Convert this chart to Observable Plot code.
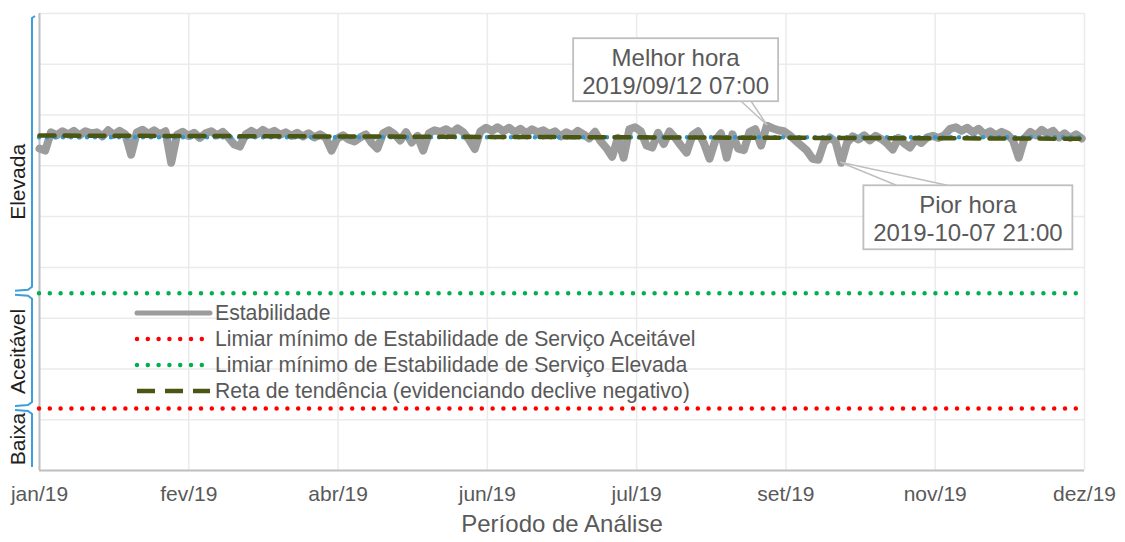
<!DOCTYPE html>
<html>
<head>
<meta charset="utf-8">
<script src="https://cdn.jsdelivr.net/npm/d3@7"></script>
<script src="https://cdn.jsdelivr.net/npm/@observablehq/plot@0.6"></script>
<style>
  html, body { margin: 0; padding: 0; background: #fff; }
  #chart svg { display: block; }
</style>
</head>
<body>
<div id="chart"></div>
<script>
// ---------------- DATA ----------------
const startDate = new Date(Date.UTC(2019, 0, 1, 0));
const endDate = new Date(Date.UTC(2019, 11, 31, 23));
const sampleStepDays = 2;

// Estabilidade (one reading every 2 days)
const stability = [
  63.4, 63.0, 66.6, 66.0, 66.8, 66.2, 66.9, 66.0, 66.8, 66.4,
  66.6, 65.8, 67.0, 66.1, 66.9, 66.2, 62.2, 66.6, 67.1, 66.3,
  67.0, 66.2, 66.8, 60.6, 66.1, 66.7, 65.9, 66.5, 65.5, 66.4,
  66.8, 66.0, 66.7, 65.6, 64.2, 63.8, 66.2, 66.9, 66.2, 67.1,
  66.4, 66.9, 66.1, 66.6, 65.9, 66.5, 65.8, 66.4, 65.6, 66.2,
  65.5, 63.0, 65.4, 66.0, 65.2, 64.8, 65.6, 66.2, 64.5, 63.4,
  66.4, 67.0, 66.2, 65.0, 66.6, 64.6, 65.9, 63.0, 66.4, 67.0,
  66.7, 67.2, 66.5, 67.4, 66.6, 65.2, 63.3, 66.8, 67.5, 66.9,
  67.6, 66.8, 67.5, 66.6, 67.3, 66.4, 67.2, 66.6, 67.0, 66.3,
  66.8, 65.8, 66.6, 66.0, 66.9, 66.2, 65.4, 66.7, 64.8, 63.5,
  61.8, 65.5, 61.6, 67.2, 67.6, 66.8, 64.0, 63.6, 66.5, 64.3,
  66.8, 65.5, 64.0, 62.6, 66.0, 66.8, 64.5, 61.4, 65.0, 66.4,
  61.6, 66.2, 63.4, 63.1, 66.7, 67.2, 64.0, 67.9, 67.4, 67.0,
  66.8, 66.0, 65.0, 64.0, 63.0, 61.4, 61.2, 64.6, 65.6, 64.8,
  60.6, 64.5, 65.8, 65.2, 66.0, 65.0, 65.9, 65.3, 64.4, 63.2,
  65.5, 64.4, 63.6, 65.2, 64.5, 65.6, 65.9, 65.5, 66.0, 67.3,
  67.6, 66.9, 67.5, 66.6, 67.3, 66.2, 66.8, 66.0, 66.7, 66.2,
  65.0, 61.6, 65.4, 66.7, 66.0, 67.1, 66.3, 66.9, 65.6, 66.4,
  65.5, 66.2, 65.4
];

const xTickLabels = ["jan/19", "fev/19", "abr/19", "jun/19", "jul/19", "set/19", "nov/19", "dez/19"];
const xTitle = "Período de Análise";

const yMax = 90;
const thresholdAcceptable = 12.2;   // Limiar mínimo Aceitável
const thresholdHigh = 34.9;         // Limiar mínimo Elevada

const bandNames = ["Baixa", "Aceitável", "Elevada"];
const bandLower = [0, thresholdAcceptable, thresholdHigh];
const bandUpper = [thresholdAcceptable, thresholdHigh, yMax];

const bestHour = { date: new Date(Date.UTC(2019, 8, 12, 7)), value: 67.9, title: "Melhor hora", label: "2019/09/12 07:00" };
const worstHour = { date: new Date(Date.UTC(2019, 9, 7, 21)), value: 60.6, title: "Pior hora", label: "2019-10-07 21:00" };

const legendLabels = [
  "Estabilidade",
  "Limiar mínimo de Estabilidade de Serviço Aceitável",
  "Limiar mínimo de Estabilidade de Serviço Elevada",
  "Reta de tendência (evidenciando declive negativo)"
];

// ---------------- STYLE ----------------
const FONT = "'Liberation Sans', Arial, Helvetica, sans-serif";
const TEXT_GRAY = "#595959";
const GRID = "#EBEBEB";
const AXIS = "#BFBFBF";
const SERIES = "#9C9C9C";
const RED = "#FF0000";
const GREEN = "#00B050";
const OLIVE = "#4A5611";
const BLUE = "#2E9BD6";
const BRACE = "#3D9ED9";

const DAY = 86400000;
const series = stability.map((v, i) => ({ date: new Date(+startDate + i * sampleStepDays * DAY), value: v }));
const xTicks = xTickLabels.map((_, i) => new Date(+startDate + i * (endDate - startDate) / (xTickLabels.length - 1)));
const labelFor = d => xTickLabels[xTicks.findIndex(t => +t === +d)];
const meanValue = d3.mean(stability);

const legendItems = [
  { label: legendLabels[0], stroke: SERIES, width: 5, dash: null, cap: "round" },
  { label: legendLabels[1], stroke: RED, width: 4.5, dash: "0 10.8", cap: "round" },
  { label: legendLabels[2], stroke: GREEN, width: 4.5, dash: "0 10.8", cap: "round" },
  { label: legendLabels[3], stroke: OLIVE, width: 4.5, dash: "18 10", cap: "butt" }
];

// ---------------- CUSTOM MARKS ----------------
function legendMark(index, scales, values, dims) {
  const g = d3.create("svg:g").attr("font-family", FONT);
  const x0 = 137, x1 = 210, tx = 215, y0 = 313, step = 26;
  legendItems.forEach((it, i) => {
    const yy = y0 + i * step;
    const ln = g.append("line").attr("x1", x0).attr("x2", x1).attr("y1", yy).attr("y2", yy)
      .attr("stroke", it.stroke).attr("stroke-width", it.width).attr("stroke-linecap", it.cap);
    if (it.dash) ln.attr("stroke-dasharray", it.dash);
    g.append("text").attr("x", tx).attr("y", yy).attr("dy", "0.35em")
      .attr("text-anchor", "start")
      .attr("font-size", 21.2).attr("fill", TEXT_GRAY).text(it.label);
  });
  return g.node();
}

function braceMark(index, { y }, values, dims) {
  const g = d3.create("svg:g").attr("font-family", FONT);
  const bx = dims.marginLeft - 7;
  const labelDy = [0, 1, 29];
  bandNames.forEach((name, i) => {
    const yTop = y(bandUpper[i]) + 3;
    const yBot = y(bandLower[i]) - 3;
    const p = d3.path();
    if (i === 2) { p.moveTo(bx + 3, yTop); p.lineTo(bx, yTop + 2); }
    else { p.moveTo(bx - 17, yTop - 1); p.lineTo(bx - 4, yTop); p.lineTo(bx, yTop + 3); }
    p.lineTo(bx, yBot - 3);
    if (i === 0) { p.lineTo(bx, yBot); }
    else { p.lineTo(bx - 4, yBot); p.lineTo(bx - 17, yBot + 1); }
    g.append("path").attr("d", p.toString()).attr("fill", "none")
      .attr("stroke", BRACE).attr("stroke-width", 2);
    const my = (y(bandUpper[i]) + y(bandLower[i])) / 2 + labelDy[i];
    g.append("text").attr("transform", `translate(${bx - 14},${my}) rotate(-90)`)
      .attr("text-anchor", "middle").attr("dy", "0.35em")
      .attr("font-size", 21).attr("fill", "#1E1E1E").text(name);
  });
  return g.node();
}

function calloutMark(ann, box) {
  return (index, { x, y }) => {
    const px = x(ann.date), py = y(ann.value);
    const g = d3.create("svg:g").attr("font-family", FONT);
    const left = px + box.dx, top = py + box.dy;
    const attach = box.attach;
    const edgeY = box.edge === "bottom" ? top + box.h : top;
    g.append("path")
      .attr("d", `M${px + attach[0]},${edgeY}L${px},${py}L${px + attach[1]},${edgeY}`)
      .attr("fill", "white").attr("stroke", AXIS).attr("stroke-width", 1.5);
    g.append("rect").attr("x", left).attr("y", top).attr("width", box.w).attr("height", box.h)
      .attr("fill", "white").attr("stroke", AXIS).attr("stroke-width", 1.8);
    g.append("text").attr("x", left + box.w / 2).attr("y", top + 19).attr("dy", "0.35em")
      .attr("text-anchor", "middle").attr("font-size", 24).attr("fill", TEXT_GRAY).text(ann.title);
    g.append("text").attr("x", left + box.w / 2).attr("y", top + 47).attr("dy", "0.35em")
      .attr("text-anchor", "middle").attr("font-size", 24).attr("fill", TEXT_GRAY).text(ann.label);
    return g.node();
  };
}

// ---------------- PLOT ----------------
const chart = Plot.plot({
  width: 1125,
  height: 542,
  marginLeft: 39,
  marginRight: 41,
  marginTop: 13,
  marginBottom: 72,
  style: { fontFamily: FONT, background: "white", overflow: "visible" },
  x: { type: "utc", domain: [startDate, endDate], axis: null },
  y: { domain: [0, yMax], axis: null },
  marks: [
    Plot.gridY(d3.range(0, yMax + 1, 10), { stroke: GRID, strokeOpacity: 1, strokeWidth: 1.5 }),
    Plot.gridX(xTicks, { stroke: GRID, strokeOpacity: 1, strokeWidth: 1.5 }),
    Plot.axisX(xTicks, { tickSize: 0, tickPadding: 16, tickFormat: labelFor, fontSize: 21, color: TEXT_GRAY, label: null }),
    Plot.text([xTitle], { frameAnchor: "bottom", dy: 61, fontSize: 24, fill: TEXT_GRAY }),
    Plot.ruleY([0], { stroke: AXIS, strokeWidth: 2 }),
    Plot.ruleX([startDate], { stroke: AXIS, strokeWidth: 2 }),
    Plot.ruleY([thresholdHigh], { stroke: GREEN, strokeWidth: 4.5, strokeDasharray: "0 10.8", strokeLinecap: "round" }),
    Plot.ruleY([thresholdAcceptable], { stroke: RED, strokeWidth: 4.5, strokeDasharray: "0 10.8", strokeLinecap: "round" }),
    Plot.line(series, { x: "date", y: "value", stroke: SERIES, strokeWidth: 8, strokeLinejoin: "round", strokeLinecap: "round" }),
    Plot.ruleY([meanValue], { stroke: BLUE, strokeWidth: 4.5, strokeDasharray: "0 8", strokeLinecap: "round" }),
    Plot.linearRegressionY(series, { x: "date", y: "value", stroke: OLIVE, strokeWidth: 4.5, strokeDasharray: "15 10", ci: 0 }),
    calloutMark(bestHour, { dx: -194, dy: -87, w: 205, h: 63, edge: "bottom", attach: [-26, -16] }),
    calloutMark(worstHour, { dx: 23, dy: 23, w: 209, h: 64, edge: "top", attach: [56, 107] }),
    legendMark,
    braceMark
  ]
});

document.getElementById("chart").appendChild(chart);
</script>
</body>
</html>
